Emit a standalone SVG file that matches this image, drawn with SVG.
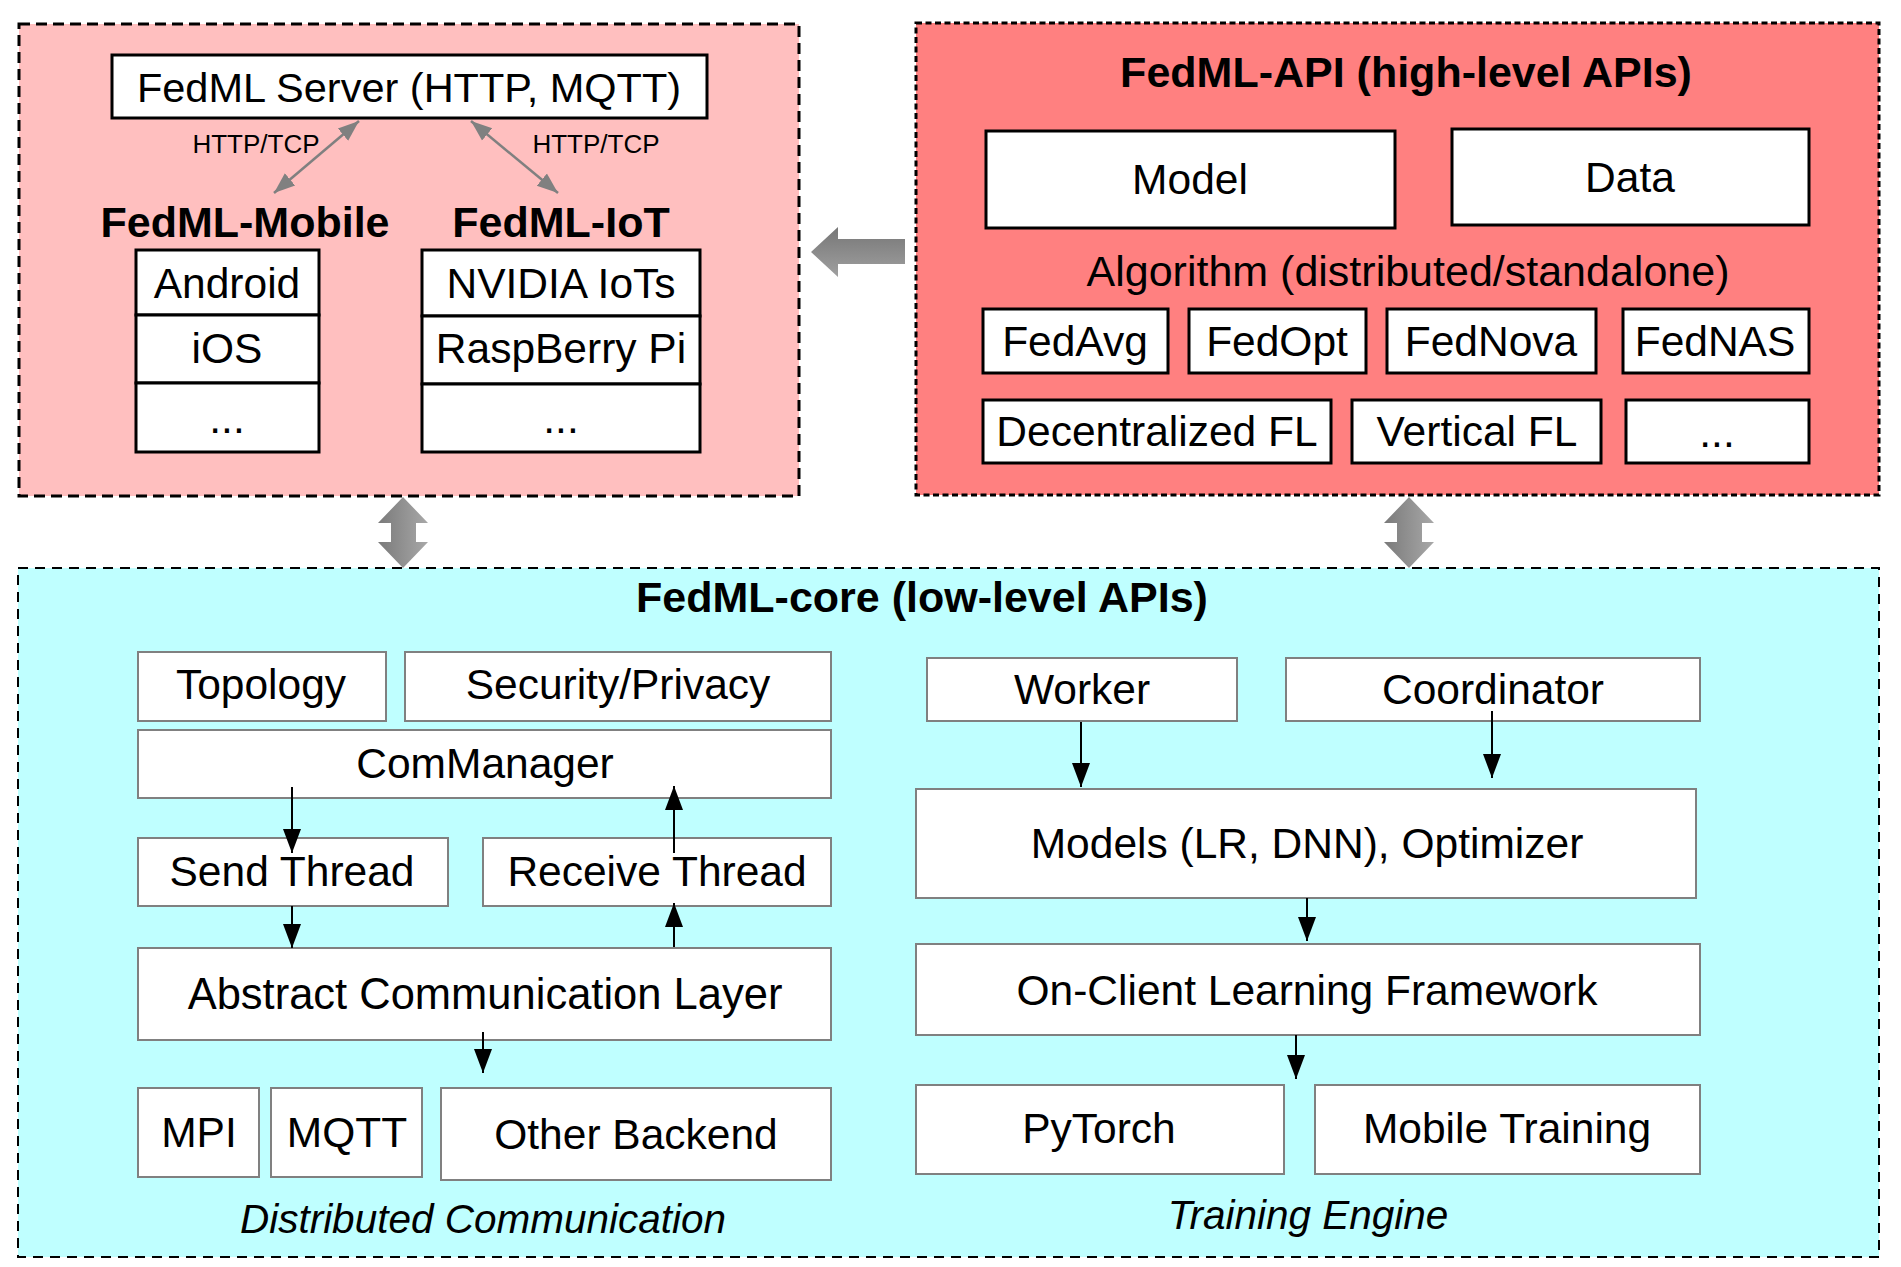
<svg xmlns="http://www.w3.org/2000/svg" width="1901" height="1267" viewBox="0 0 1901 1267">
<defs>
<style>
text{font-family:"Liberation Sans",Arial,Helvetica,sans-serif;fill:#000;text-anchor:middle}
.t{font-size:42.5px}
.ts{font-size:41.5px}
.b{font-size:43px;font-weight:bold}
.sm{font-size:26px}
.it{font-size:40.5px;font-style:italic}
.bx{fill:#fff;stroke:#000;stroke-width:3}
.gb{fill:#fff;stroke:#808080;stroke-width:2}
.ar{stroke:#000;stroke-width:2;fill:none;marker-end:url(#ah)}
.ga{stroke:#808080;stroke-width:2.5;fill:none;marker-end:url(#gh);marker-start:url(#gh)}
</style>
<marker id="ah" markerUnits="userSpaceOnUse" markerWidth="26" markerHeight="20" viewBox="0 0 26 20" refX="24" refY="10" orient="auto">
<path d="M0,1 L24,10 L0,19 Z" fill="#000"/>
</marker>
<marker id="gh" markerUnits="userSpaceOnUse" markerWidth="22" markerHeight="18" viewBox="0 0 22 18" refX="21" refY="9" orient="auto-start-reverse">
<path d="M0,1 L21,9 L0,17 Z" fill="#808080"/>
</marker>
<linearGradient id="gv" x1="0" y1="0" x2="0" y2="1">
<stop offset="0" stop-color="#767676"/>
<stop offset="1" stop-color="#a0a0a0"/>
</linearGradient>
<linearGradient id="gh2" x1="0" y1="0" x2="1" y2="0">
<stop offset="0" stop-color="#7a7a7a"/>
<stop offset="1" stop-color="#a8a8a8"/>
</linearGradient>
</defs>

<g id="edge-panel">
<rect x="19" y="24" width="780" height="472" fill="#FFBFBF" stroke="#000" stroke-width="3" stroke-dasharray="11,6"/>
<g id="server"><rect class="bx" x="112" y="55" width="595" height="63"/><text class="ts" x="409" y="102">FedML Server (HTTP, MQTT)</text></g>
<text class="sm" x="256" y="153">HTTP/TCP</text>
<text class="sm" x="596" y="153">HTTP/TCP</text>
<g id="mobile">
<text class="b" x="245" y="237">FedML-Mobile</text>
<rect class="bx" x="136" y="250" width="183" height="65"/><text class="t" x="227" y="298">Android</text>
<rect class="bx" x="136" y="315" width="183" height="68"/><text class="t" x="227" y="363">iOS</text>
<rect class="bx" x="136" y="383" width="183" height="69"/><text class="t" x="227" y="433">...</text>
</g>
<g id="iot">
<text class="b" x="561" y="237">FedML-IoT</text>
<rect class="bx" x="422" y="250" width="278" height="66"/><text class="t" x="561" y="298">NVIDIA IoTs</text>
<rect class="bx" x="422" y="316" width="278" height="68"/><text class="t" x="561" y="363">RaspBerry Pi</text>
<rect class="bx" x="422" y="384" width="278" height="68"/><text class="t" x="561" y="433">...</text>
</g>
</g>

<g id="api-panel">
<rect x="916" y="23" width="963" height="472" fill="#FF8080" stroke="#000" stroke-width="3" stroke-dasharray="6,3.5"/>
<text class="b" x="1406" y="87">FedML-API (high-level APIs)</text>
<g id="model"><rect class="bx" x="986" y="131" width="409" height="97"/><text class="t" x="1190" y="194">Model</text></g>
<g id="data"><rect class="bx" x="1452" y="129" width="357" height="96"/><text class="t" x="1630" y="192">Data</text></g>
<text class="t" x="1408" y="286" style="font-size:43px">Algorithm (distributed/standalone)</text>
<g id="fedavg"><rect class="bx" x="983" y="309" width="185" height="64"/><text class="t" x="1075" y="356">FedAvg</text></g>
<g id="fedopt"><rect class="bx" x="1189" y="309" width="177" height="64"/><text class="t" x="1277" y="356">FedOpt</text></g>
<g id="fednova"><rect class="bx" x="1387" y="309" width="209" height="64"/><text class="t" x="1491" y="356">FedNova</text></g>
<g id="fednas"><rect class="bx" x="1623" y="309" width="186" height="64"/><text class="t" x="1715" y="356">FedNAS</text></g>
<g id="decfl"><rect class="bx" x="983" y="400" width="348" height="63"/><text class="t" x="1157" y="446">Decentralized FL</text></g>
<g id="vertfl"><rect class="bx" x="1352" y="400" width="249" height="63"/><text class="t" x="1477" y="446">Vertical FL</text></g>
<g id="more-alg"><rect class="bx" x="1626" y="400" width="183" height="63"/><text class="t" x="1717" y="447">...</text></g>
</g>

<g id="core-panel">
<rect x="18" y="568" width="1861" height="689" fill="#BFFFFF" stroke="#000" stroke-width="2" stroke-dasharray="10,7"/>
<text class="b" x="922" y="612">FedML-core (low-level APIs)</text>
<g id="topology"><rect class="gb" x="138" y="652" width="248" height="69"/><text class="t" x="261" y="699">Topology</text></g>
<g id="security"><rect class="gb" x="405" y="652" width="426" height="69"/><text class="t" x="618" y="699">Security/Privacy</text></g>
<g id="commanager"><rect class="gb" x="138" y="730" width="693" height="68"/><text class="t" x="485" y="778">ComManager</text></g>
<g id="send"><rect class="gb" x="138" y="838" width="310" height="68"/><text class="t" x="292" y="886">Send Thread</text></g>
<g id="receive"><rect class="gb" x="483" y="838" width="348" height="68"/><text class="t" x="657" y="886">Receive Thread</text></g>
<g id="acl"><rect class="gb" x="138" y="948" width="693" height="92"/><text class="t" x="485" y="1009" style="font-size:43.5px">Abstract Communication Layer</text></g>
<g id="mpi"><rect class="gb" x="138" y="1088" width="121" height="89"/><text class="t" x="199" y="1147">MPI</text></g>
<g id="mqtt"><rect class="gb" x="271" y="1088" width="151" height="89"/><text class="t" x="347" y="1147">MQTT</text></g>
<g id="other"><rect class="gb" x="441" y="1088" width="390" height="92"/><text class="t" x="636" y="1149">Other Backend</text></g>
<text class="it" x="483" y="1233">Distributed Communication</text>
<g id="worker"><rect class="gb" x="927" y="658" width="310" height="63"/><text class="t" x="1082" y="704">Worker</text></g>
<g id="coordinator"><rect class="gb" x="1286" y="658" width="414" height="63"/><text class="t" x="1493" y="704">Coordinator</text></g>
<g id="models"><rect class="gb" x="916" y="789" width="780" height="109"/><text class="t" x="1307" y="858">Models (LR, DNN), Optimizer</text></g>
<g id="onclient"><rect class="gb" x="916" y="944" width="784" height="91"/><text class="t" x="1307" y="1005">On-Client Learning Framework</text></g>
<g id="pytorch"><rect class="gb" x="916" y="1085" width="368" height="89"/><text class="t" x="1099" y="1143">PyTorch</text></g>
<g id="mobiletrain"><rect class="gb" x="1315" y="1085" width="385" height="89"/><text class="t" x="1507" y="1143">Mobile Training</text></g>
<text class="it" x="1308" y="1229">Training Engine</text>
</g>

<g id="connectors">
<line class="ga" x1="359" y1="121" x2="274" y2="193"/>
<line class="ga" x1="471" y1="121" x2="558" y2="193"/>
<polygon points="811,252 838,227 838,239 905,239 905,264 838,264 838,277" fill="url(#gv)"/>
<polygon points="403,497 428,523 416,523 416,542 428,542 403,568 378,542 391,542 391,523 378,523" fill="url(#gh2)"/>
<polygon points="1409,497 1434,523 1422,523 1422,542 1434,542 1409,568 1384,542 1397,542 1397,523 1384,523" fill="url(#gh2)"/>
<line class="ar" x1="292" y1="787" x2="292" y2="853"/>
<line class="ar" x1="292" y1="906" x2="292" y2="948"/>
<line class="ar" x1="674" y1="947" x2="674" y2="903"/>
<line class="ar" x1="674" y1="853" x2="674" y2="786"/>
<line class="ar" x1="483" y1="1032" x2="483" y2="1073"/>
<line class="ar" x1="1081" y1="722" x2="1081" y2="787"/>
<line class="ar" x1="1492" y1="711" x2="1492" y2="778"/>
<line class="ar" x1="1307" y1="898" x2="1307" y2="941"/>
<line class="ar" x1="1296" y1="1035" x2="1296" y2="1079"/>
</g>
</svg>
